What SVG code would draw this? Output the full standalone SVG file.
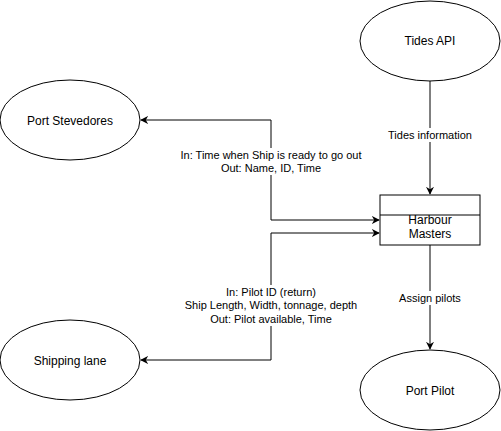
<svg xmlns="http://www.w3.org/2000/svg" width="501" height="431" viewBox="0 0 501 431">
  <style>
    .shape { fill: #ffffff; stroke: #000000; stroke-width: 1; }
    .edge { fill: none; stroke: #000000; stroke-width: 1; }
    .node-text { font-family: "Liberation Sans", Arial, sans-serif; font-size: 12px; fill: #000000; text-anchor: middle; dominant-baseline: central; }
    .edge-text { font-family: "Liberation Sans", Arial, sans-serif; font-size: 11px; fill: #000000; text-anchor: middle; dominant-baseline: central; }
    .label-bg { fill: #ffffff; stroke: none; }
  </style>
  <defs>
    <marker id="arrow" viewBox="0 0 10 10" refX="9" refY="5" markerWidth="8" markerHeight="8" markerUnits="userSpaceOnUse" orient="auto">
      <path d="M0,0 L10,5 L0,10 L3,5 Z" fill="#000000"/>
    </marker>
  </defs>
  <rect width="501" height="431" fill="#ffffff"/>

  <g id="connectors">
    <!-- Tides API to Harbour Masters -->
    <path class="edge" d="M430,80 L430,194" marker-end="url(#arrow)"/>
    <rect class="label-bg" x="386" y="128" width="88" height="14"/>
    <text class="edge-text" x="430" y="135">Tides information</text>

    <!-- Harbour Masters to Port Pilot -->
    <path class="edge" d="M430,245 L430,349" marker-end="url(#arrow)"/>
    <rect class="label-bg" x="398" y="291" width="64" height="14"/>
    <text class="edge-text" x="430" y="298">Assign pilots</text>

    <!-- Harbour Masters <-> Port Stevedores -->
    <path class="edge" d="M271,220 L379,220" marker-end="url(#arrow)"/>
    <path class="edge" d="M271,220 L271,120 L141,120" marker-end="url(#arrow)"/>
    <rect class="label-bg" x="178" y="148" width="186" height="27"/>
    <text class="edge-text" x="271" y="155">In: Time when Ship is ready to go out</text>
    <text class="edge-text" x="271" y="168">Out: Name, ID, Time</text>

    <!-- Harbour Masters <-> Shipping lane -->
    <path class="edge" d="M271,233 L379,233" marker-end="url(#arrow)"/>
    <path class="edge" d="M271,233 L271,360 L141,360" marker-end="url(#arrow)"/>
    <rect class="label-bg" x="185" y="285" width="172" height="41"/>
    <text class="edge-text" x="271" y="292">In: Pilot ID (return)</text>
    <text class="edge-text" x="271" y="305">Ship Length, Width, tonnage, depth</text>
    <text class="edge-text" x="271" y="319">Out: Pilot available, Time</text>
  </g>

  <g id="tides-api">
    <ellipse class="shape" cx="430" cy="41" rx="70" ry="40"/>
    <text class="node-text" x="430" y="41">Tides API</text>
  </g>

  <g id="port-stevedores">
    <ellipse class="shape" cx="70" cy="120" rx="70" ry="40"/>
    <text class="node-text" x="70" y="121">Port Stevedores</text>
  </g>

  <g id="harbour-masters">
    <rect class="shape" x="380" y="195" width="100" height="50"/>
    <line class="edge" x1="380" y1="215" x2="480" y2="215"/>
    <text class="node-text" x="430" y="220">Harbour</text>
    <text class="node-text" x="430" y="234">Masters</text>
  </g>

  <g id="shipping-lane">
    <ellipse class="shape" cx="70" cy="360" rx="70" ry="40"/>
    <text class="node-text" x="70" y="361">Shipping lane</text>
  </g>

  <g id="port-pilot">
    <ellipse class="shape" cx="430" cy="390" rx="70" ry="40"/>
    <text class="node-text" x="430" y="391">Port Pilot</text>
  </g>
</svg>
